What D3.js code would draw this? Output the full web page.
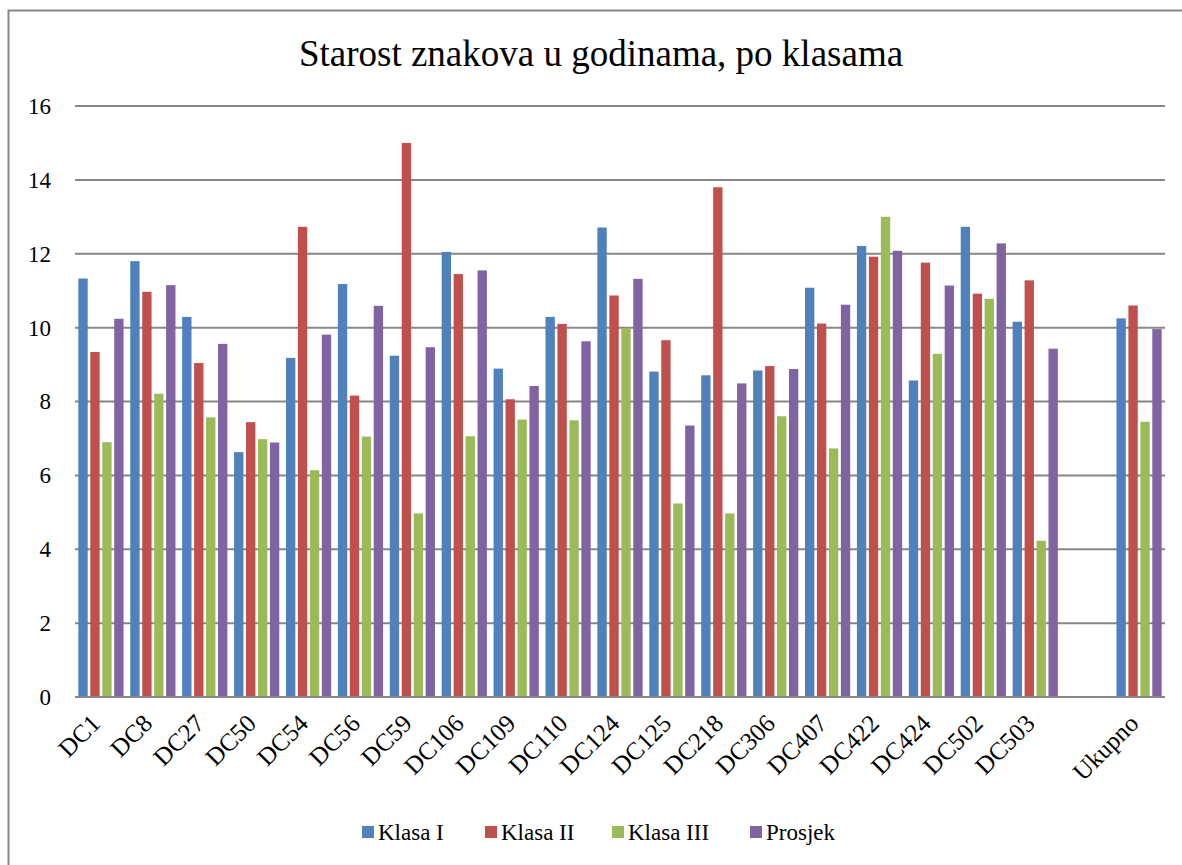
<!DOCTYPE html>
<html>
<head>
<meta charset="utf-8">
<script src="https://cdn.jsdelivr.net/npm/d3@7"></script>
<style>
  body { margin: 0; background: #fff; }
  svg text { font-family: 'Liberation Serif', Tinos, 'DejaVu Serif', serif; fill: #000; }
</style>
</head>
<body>
<div id="chart"></div>
<script>
// chart data
var categories = ['DC1', 'DC8', 'DC27', 'DC50', 'DC54', 'DC56', 'DC59', 'DC106', 'DC109', 'DC110',
  'DC124', 'DC125', 'DC218', 'DC306', 'DC407', 'DC422', 'DC424', 'DC502', 'DC503', '', 'Ukupno'];
var seriesNames = ['Klasa I', 'Klasa II', 'Klasa III', 'Prosjek'];
var klasaI   = [11.33, 11.80, 10.29, 6.63, 9.18, 11.18, 9.24, 12.05, 8.89, 10.29, 12.71, 8.81, 8.71, 8.84, 11.08, 12.21, 8.57, 12.73, 10.16, null, 10.25];
var klasaII  = [9.34, 10.97, 9.04, 7.44, 12.73, 8.16, 15.00, 11.45, 8.06, 10.10, 10.87, 9.66, 13.80, 8.96, 10.11, 11.92, 11.76, 10.92, 11.28, null, 10.60];
var klasaIII = [6.90, 8.21, 7.57, 6.98, 6.14, 7.05, 4.97, 7.06, 7.51, 7.49, 9.99, 5.24, 4.97, 7.60, 6.73, 13.00, 9.29, 10.78, 4.23, null, 7.45];
var prosjek  = [10.24, 11.15, 9.56, 6.89, 9.81, 10.59, 9.47, 11.55, 8.42, 9.63, 11.32, 7.35, 8.49, 8.88, 10.62, 12.08, 11.14, 12.28, 9.43, null, 9.96];
var yTicks = [0, 2, 4, 6, 8, 10, 12, 14, 16];
var colors = ['#4f81bd', '#c0504d', '#9bbb59', '#8064a2'];

var seriesValues = [klasaI, klasaII, klasaIII, prosjek];

var width = 1182, height = 865;
var plotLeft = 75, plotRight = 1165, plotTop = 106, plotBottom = 697;
var serif = "'Liberation Serif', Tinos, 'DejaVu Serif', serif";

var svg = d3.select('#chart').append('svg')
  .attr('width', width)
  .attr('height', height)
  .style('font-family', serif);

// outer frame (runs off the right and bottom edge)
svg.append('rect')
  .attr('x', 8.5).attr('y', 10.5)
  .attr('width', 1200).attr('height', 900)
  .attr('fill', 'none')
  .attr('stroke', '#868686')
  .attr('stroke-width', 2);

// title
svg.append('text')
  .attr('x', 601).attr('y', 66)
  .style('font-size', '37px')
  .style('text-anchor', 'middle')
  .text('Starost znakova u godinama, po klasama');

// scales (blank slot gets a unique key)
var keys = categories.map(function(c, i) { return c === '' ? '_blank' + i : c; });
var x0 = d3.scaleBand().domain(keys).range([plotLeft, plotRight]).padding(0);
var x1 = d3.scaleBand().domain(seriesNames).range([0, x0.bandwidth()])
  .paddingInner(0.218).paddingOuter(0.28);
var y = d3.scaleLinear().domain([0, 16]).range([plotBottom, plotTop]);

// gridlines
svg.append('g')
  .selectAll('line')
  .data(yTicks)
  .enter()
  .append('line')
  .attr('x1', plotLeft).attr('x2', plotRight)
  .attr('y1', function(d) { return y(d); })
  .attr('y2', function(d) { return y(d); })
  .attr('stroke', '#868686')
  .attr('stroke-width', 2);

// y axis labels
var yAxis = svg.append('g')
  .attr('transform', 'translate(' + (plotLeft - 24) + ',0)')
  .call(d3.axisLeft(y).tickValues(yTicks).tickSize(0).tickPadding(0));
yAxis.attr('font-family', null).attr('font-size', null);
yAxis.select('.domain').remove();
yAxis.selectAll('text')
  .attr('fill', '#000')
  .style('font-size', '23px');

// bars
var groups = svg.append('g')
  .selectAll('g')
  .data(keys)
  .enter()
  .append('g')
  .attr('transform', function(d) { return 'translate(' + x0(d) + ',0)'; });

groups.selectAll('rect')
  .data(function(d, i) {
    return seriesNames.map(function(s, j) { return { series: s, idx: j, value: seriesValues[j][i] }; })
      .filter(function(e) { return e.value != null; });
  })
  .enter()
  .append('rect')
  .attr('x', function(d) { return x1(d.series); })
  .attr('y', function(d) { return y(d.value); })
  .attr('width', x1.bandwidth())
  .attr('height', function(d) { return y(0) - y(d.value); })
  .attr('fill', function(d) { return colors[d.idx]; });

// baseline
svg.append('line')
  .attr('x1', plotLeft).attr('x2', plotRight)
  .attr('y1', plotBottom).attr('y2', plotBottom)
  .attr('stroke', '#868686')
  .attr('stroke-width', 2);

// category labels, rotated
svg.append('g')
  .selectAll('text')
  .data(keys)
  .enter()
  .append('text')
  .attr('transform', function(d) {
    return 'translate(' + (x0(d) + x0.bandwidth() / 2 + 1) + ',' + (plotBottom + 28) + ') rotate(-45)';
  })
  .style('font-size', '25px')
  .style('text-anchor', 'end')
  .text(function(d, i) { return categories[i]; });

// legend
var legendX = [362, 485, 612, 750];
var legend = svg.append('g')
  .selectAll('g')
  .data(seriesNames)
  .enter()
  .append('g')
  .attr('transform', function(d, i) { return 'translate(' + legendX[i] + ',826)'; });

legend.append('rect')
  .attr('x', 0).attr('y', 0)
  .attr('width', 12).attr('height', 12)
  .attr('fill', function(d, i) { return colors[i]; });

legend.append('text')
  .attr('x', 16).attr('y', 14)
  .style('font-size', '23px')
  .text(function(d) { return d; });
</script>
</body>
</html>
